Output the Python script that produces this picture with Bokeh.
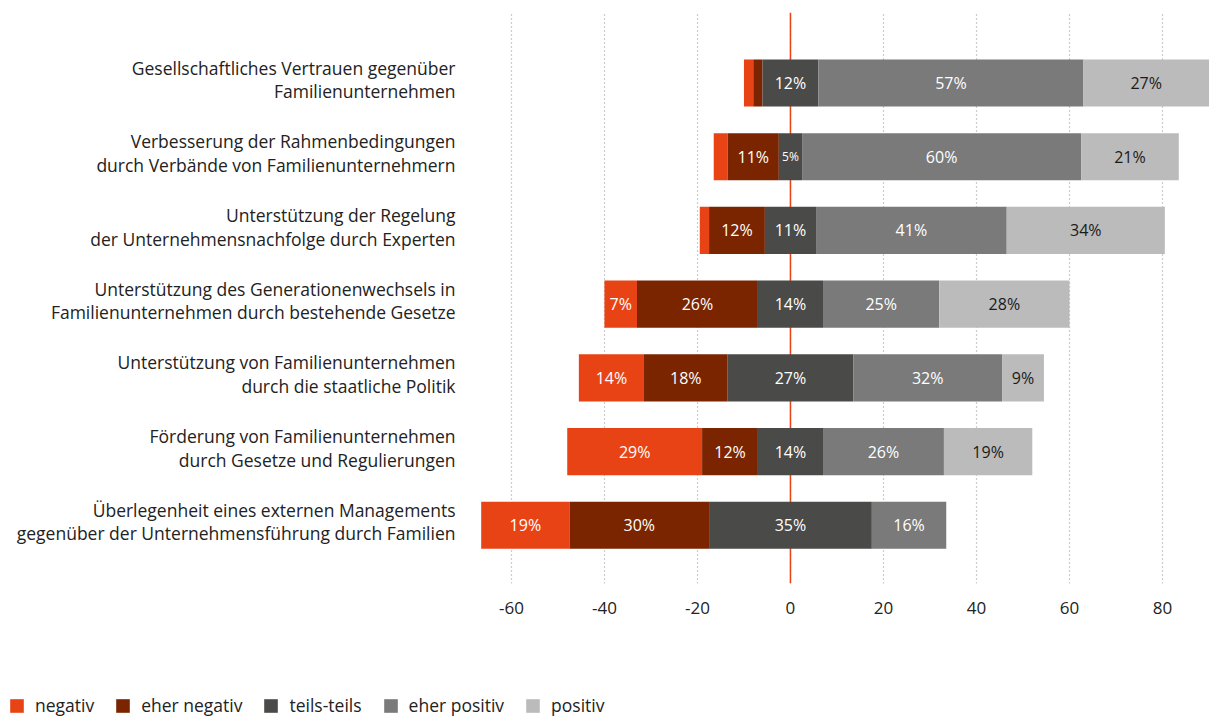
from bokeh.plotting import figure
from bokeh.models import ColumnDataSource, Range1d, FixedTicker, Span, Legend, LegendItem
from bokeh.embed import file_html
from bokeh.resources import INLINE
from bokeh.core.properties import value

categories = [
    "Gesellschaftliches Vertrauen gegenüber\nFamilienunternehmen",
    "Verbesserung der Rahmenbedingungen\ndurch Verbände von Familienunternehmern",
    "Unterstützung der Regelung\nder Unternehmensnachfolge durch Experten",
    "Unterstützung des Generationenwechsels in\nFamilienunternehmen durch bestehende Gesetze",
    "Unterstützung von Familienunternehmen\ndurch die staatliche Politik",
    "Förderung von Familienunternehmen\ndurch Gesetze und Regulierungen",
    "Überlegenheit eines externen Managements\ngegenüber der Unternehmensführung durch Familien",
]
negativ = [2, 3, 2, 7, 14, 29, 19]
eher_negativ = [2, 11, 12, 26, 18, 12, 30]
teils_teils = [12, 5, 11, 14, 27, 14, 35]
eher_positiv = [57, 60, 41, 25, 32, 26, 16]
positiv = [27, 21, 34, 28, 9, 19, 0]
series_names = ["negativ", "eher negativ", "teils-teils", "eher positiv", "positiv"]
colors = ["#E84315", "#7A2500", "#4A4A48", "#7A7A7A", "#BBBBBB"]
label_colors = ["#FFFFFF", "#FFFFFF", "#FFFFFF", "#FFFFFF", "#1A1A1A"]
x_ticks = [-60, -40, -20, 0, 20, 40, 60, 80]

FONT = "Open Sans"
n = len(categories)
ys = [n - 1 - i for i in range(n)]
series = [negativ, eher_negativ, teils_teils, eher_positiv, positiv]

p = figure(width=1212, height=640, output_backend="svg", toolbar_location=None,
           x_range=Range1d(-68.8, 90.75), y_range=Range1d(-0.79, 6.957),
           min_border_left=470, min_border_right=0, min_border_top=12,
           min_border_bottom=57)
p.outline_line_color = None
p.background_fill_color = "white"
p.border_fill_color = "white"

# grid
p.ygrid.grid_line_color = None
p.xgrid.ticker = FixedTicker(ticks=x_ticks)
p.xgrid.grid_line_color = "#9A9A9A"
p.xgrid.grid_line_dash = "1 3"
p.xgrid.grid_line_width = 1.2

p.add_layout(Span(location=0, dimension="height", line_color="#E84315",
                  line_width=1.5, level="underlay"))

# compute segments
lefts_all, rights_all = [], []
for r in range(n):
    start = -(negativ[r] + eher_negativ[r] + teils_teils[r] / 2)
    ls, rs = [], []
    cur = start
    for s in series:
        ls.append(cur)
        cur += s[r]
        rs.append(cur)
    lefts_all.append(ls)
    rights_all.append(rs)

sources = []
for k, name in enumerate(series_names):
    vals = series[k]
    left = [lefts_all[r][k] for r in range(n)]
    right = [rights_all[r][k] for r in range(n)]
    mid = [(a + b) / 2 for a, b in zip(left, right)]
    labels = [f"{v}%" if v >= 5 else "" for v in vals]
    sizes = ["12px" if v <= 5 else "16px" for v in vals]
    src = ColumnDataSource(dict(y=ys, left=left, right=right, mid=mid, label=labels, size=sizes))
    sources.append(src)
    p.hbar(y="y", left="left", right="right", height=0.64, source=src,
           fill_color=colors[k], line_color=None)
    p.text(x="mid", y="y", text="label", source=src, text_align="center",
           text_baseline="middle", text_color=label_colors[k], text_font=value(FONT),
           text_font_size="size")

# axes
p.xaxis.ticker = FixedTicker(ticks=x_ticks)
p.xaxis.major_label_overrides = {t: str(t) for t in x_ticks}
p.xaxis.axis_line_color = None
p.xaxis.major_tick_line_color = None
p.xaxis.minor_tick_line_color = None
p.xaxis.major_label_standoff = 12
p.xaxis.major_label_text_font = FONT
p.xaxis.major_label_text_font_size = "17px"
p.xaxis.major_label_text_color = "#222222"

label_pos = [y + 0.05 for y in ys]
p.yaxis.ticker = FixedTicker(ticks=label_pos)
p.yaxis.major_label_overrides = {y: c for y, c in zip(label_pos, categories)}
p.yaxis.axis_line_color = None
p.yaxis.major_tick_line_color = None
p.yaxis.minor_tick_line_color = None
p.yaxis.major_label_standoff = 9
p.yaxis.major_label_text_font = FONT
p.yaxis.major_label_text_font_size = "17.5px"
p.yaxis.major_label_text_color = "#222222"
p.yaxis.major_label_text_line_height = 0.98

# legend strip (separate root below the chart)
p2 = figure(width=1212, height=80, output_backend="svg", toolbar_location=None,
            x_axis_type=None, y_axis_type=None, min_border=0,
            x_range=Range1d(500, 600), y_range=Range1d(500, 600))
p2.outline_line_color = None
p2.xgrid.visible = False
p2.ygrid.visible = False
items = []
for k, name in enumerate(series_names):
    r = p2.hbar(y="y", left="left", right="right", height=0.64, source=sources[k],
                fill_color=colors[k], line_color=None)
    items.append(LegendItem(label=name, renderers=[r]))
legend = Legend(items=items, orientation="horizontal", location=(8, 3),
                padding=0, margin=0, spacing=20, label_standoff=10,
                glyph_width=17, glyph_height=17,
                label_text_font=FONT, label_text_font_size="17.5px",
                label_text_color="#222222", border_line_color=None,
                background_fill_alpha=0)
p2.add_layout(legend, "center")

open("out.html", "w").write(file_html([p, p2], INLINE))
